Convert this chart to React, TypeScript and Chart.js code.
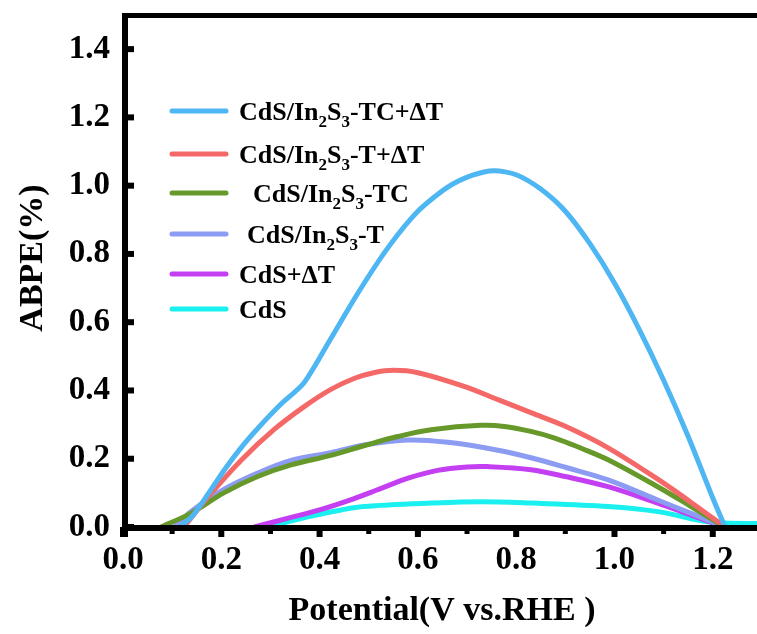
import { useEffect, useRef } from "react";
import { Chart, registerables } from "chart.js";

Chart.register(...registerables);

// Potential (V vs. RHE) and ABPE (%) for each photoanode
const tcDtPotential = [0.115, 0.14, 0.17, 0.205, 0.24, 0.275, 0.32, 0.368, 0.42, 0.48, 0.54, 0.6, 0.66, 0.71, 0.755, 0.8, 0.85, 0.9, 0.95, 1.0, 1.05, 1.1, 1.15, 1.2, 1.225];
const tcDtAbpe = [0, 0.03, 0.09, 0.165, 0.232, 0.29, 0.358, 0.422, 0.545, 0.69, 0.82, 0.925, 0.995, 1.03, 1.044, 1.032, 0.99, 0.925, 0.83, 0.715, 0.58, 0.43, 0.265, 0.085, 0];

const tDtPotential = [0.124, 0.173, 0.24, 0.307, 0.368, 0.423, 0.47, 0.51, 0.551, 0.6, 0.694, 0.763, 0.83, 0.9, 0.987, 1.088, 1.156, 1.225];
const tDtAbpe = [0, 0.088, 0.195, 0.285, 0.352, 0.403, 0.435, 0.452, 0.459, 0.452, 0.412, 0.373, 0.335, 0.295, 0.232, 0.14, 0.072, 0];

const tcPotential = [0.077, 0.138, 0.205, 0.274, 0.342, 0.423, 0.49, 0.559, 0.627, 0.728, 0.78, 0.83, 0.88, 0.93, 0.987, 1.088, 1.156, 1.225];
const tcAbpe = [0, 0.04, 0.1, 0.148, 0.182, 0.21, 0.238, 0.265, 0.285, 0.298, 0.294, 0.28, 0.26, 0.232, 0.197, 0.118, 0.06, 0];

const tPotential = [0.104, 0.138, 0.205, 0.274, 0.342, 0.423, 0.49, 0.58, 0.661, 0.763, 0.83, 0.9, 0.987, 1.088, 1.156, 1.225];
const tAbpe = [0, 0.045, 0.11, 0.158, 0.195, 0.218, 0.24, 0.255, 0.248, 0.225, 0.203, 0.175, 0.138, 0.079, 0.04, 0];

const cdsDtPotential = [0.267, 0.342, 0.4, 0.46, 0.52, 0.58, 0.64, 0.7, 0.742, 0.83, 0.9, 0.987, 1.088, 1.156, 1.225];
const cdsDtAbpe = [0, 0.028, 0.05, 0.078, 0.11, 0.143, 0.166, 0.176, 0.177, 0.168, 0.148, 0.118, 0.07, 0.035, 0];

const cdsPotential = [0.295, 0.376, 0.444, 0.49, 0.627, 0.728, 0.83, 0.987, 1.088, 1.19, 1.225, 1.29];
const cdsAbpe = [0, 0.03, 0.05, 0.06, 0.07, 0.074, 0.07, 0.06, 0.045, 0.015, 0.012, 0.01];

const seriesLabels = [
  "CdS/In₂S₃-TC+ΔT",
  "CdS/In₂S₃-T+ΔT",
  "CdS/In₂S₃-TC",
  "CdS/In₂S₃-T",
  "CdS+ΔT",
  "CdS",
];
const seriesColors = ["#4db6f3", "#f56868", "#67992a", "#8c9cf2", "#c43ff2", "#1af0f0"];

const xTicks = [0, 0.2, 0.4, 0.6, 0.8, 1.0, 1.2];
const xMinorTicks = [0.1, 0.3, 0.5, 0.7, 0.9, 1.1];
const yTicks = [0, 0.2, 0.4, 0.6, 0.8, 1.0, 1.2, 1.4];

const SERIF = '"Liberation Serif", "Times New Roman", serif';

const toPoints = (xs: number[], ys: number[]) => xs.map((x, i) => ({ x, y: ys[i] }));

const SUBS: Record<string, string> = { "₂": "2", "₃": "3" };

// Draws text where subscript digits are rendered smaller and lowered
function drawRichText(ctx: CanvasRenderingContext2D, text: string, x: number, y: number) {
  let cx = x;
  for (const ch of Array.from(text)) {
    if (SUBS[ch]) {
      ctx.font = `bold 17px ${SERIF}`;
      ctx.fillText(SUBS[ch], cx, y + 7);
      cx += ctx.measureText(SUBS[ch]).width;
    } else {
      ctx.font = `bold 26px ${SERIF}`;
      ctx.fillText(ch, cx, y);
      cx += ctx.measureText(ch).width;
    }
  }
}

const framePlugin = {
  id: "frame",
  afterDatasetsDraw(chart: any) {
    const { ctx, chartArea, scales } = chart;
    const xs = scales.x;
    const ys = scales.y;
    const W = chart.width;
    ctx.save();
    ctx.fillStyle = "#000";
    // axis lines
    ctx.fillRect(chartArea.left - 1, chartArea.top - 2, W, 5);
    ctx.fillRect(chartArea.left - 1, chartArea.top - 2, 6, chartArea.bottom - chartArea.top + 12);
    ctx.fillRect(chartArea.left - 1, chartArea.bottom - 2, W, 6);
    // y ticks (inward)
    for (const v of yTicks) {
      const py = ys.getPixelForValue(v);
      ctx.fillRect(chartArea.left, py - 3, 11, 6);
    }
    // x ticks (outward)
    for (const v of xTicks) {
      const px = xs.getPixelForValue(v);
      ctx.fillRect(px - 3, chartArea.bottom, 6, 10);
    }
    for (const v of xMinorTicks) {
      const px = xs.getPixelForValue(v);
      ctx.fillRect(px - 2.5, chartArea.bottom, 5, 7);
    }

    // legend
    const rowY = [111, 154, 193, 234, 274, 309];
    const textX = [239, 239, 253, 247, 239, 239];
    chart.data.datasets.forEach((ds: any, i: number) => {
      ctx.strokeStyle = ds.borderColor;
      ctx.lineWidth = 5;
      ctx.lineCap = "round";
      ctx.beginPath();
      ctx.moveTo(172, rowY[i]);
      ctx.lineTo(226, rowY[i]);
      ctx.stroke();
      ctx.fillStyle = "#000";
      ctx.textBaseline = "alphabetic";
      ctx.textAlign = "left";
      drawRichText(ctx, ds.label, textX[i], rowY[i] + 9);
    });

    // axis titles
    ctx.fillStyle = "#000";
    ctx.textAlign = "center";
    ctx.textBaseline = "middle";
    ctx.font = `bold 34px ${SERIF}`;
    ctx.fillText("Potential(V vs.RHE )", (chartArea.left + W) / 2 + 2, 611);
    ctx.save();
    ctx.translate(33, 258);
    ctx.rotate(-Math.PI / 2);
    ctx.fillText("ABPE(%)", 0, 0);
    ctx.restore();
    ctx.restore();
  },
};

const seriesPoints = [
  toPoints(tcDtPotential, tcDtAbpe),
  toPoints(tDtPotential, tDtAbpe),
  toPoints(tcPotential, tcAbpe),
  toPoints(tPotential, tAbpe),
  toPoints(cdsDtPotential, cdsDtAbpe),
  toPoints(cdsPotential, cdsAbpe),
];

export default function App() {
  const canvasRef = useRef<HTMLCanvasElement | null>(null);

  useEffect(() => {
    if (!canvasRef.current) return;
    const chart = new Chart(canvasRef.current, {
      type: "line",
      data: {
        datasets: seriesLabels.map((label, i) => ({
          label,
          data: seriesPoints[i],
          borderColor: seriesColors[i],
          borderWidth: 5,
          pointRadius: 0,
          fill: false,
          tension: i === 0 ? 0.25 : 0.35,
        })),
      },
      options: {
        responsive: false,
        animation: false,
        layout: { padding: { top: 15, left: 0, right: 0, bottom: 0 } },
        plugins: {
          legend: { display: false },
          tooltip: { enabled: false },
        },
        scales: {
          x: {
            type: "linear",
            min: 0,
            max: 1.29,
            afterFit: (scale: any) => {
              scale.height = 107;
              scale.paddingLeft = 0;
              scale.paddingRight = 0;
            },
            afterBuildTicks: (scale: any) => {
              scale.ticks = xTicks.map((value) => ({ value }));
            },
            grid: { display: false, drawTicks: false },
            border: { display: false },
            ticks: {
              autoSkip: false,
              maxRotation: 0,
              padding: 14,
              color: "#000",
              font: { family: SERIF, size: 33, weight: "bold" },
              callback: (v: any) => Number(v).toFixed(1),
            },
          },
          y: {
            type: "linear",
            min: 0,
            max: 1.5,
            afterFit: (scale: any) => {
              scale.width = 123;
              scale.paddingTop = 0;
              scale.paddingBottom = 0;
            },
            afterBuildTicks: (scale: any) => {
              scale.ticks = yTicks.map((value) => ({ value }));
            },
            grid: { display: false, drawTicks: false },
            border: { display: false },
            ticks: {
              autoSkip: false,
              padding: 13,
              color: "#000",
              font: { family: SERIF, size: 33, weight: "bold" },
              callback: (v: any) => Number(v).toFixed(1),
            },
          },
        },
      },
      plugins: [framePlugin],
    });
    return () => chart.destroy();
  }, []);

  return (
    <div style={{ position: "absolute", left: 0, top: 0, width: 757, height: 634, background: "#fff" }}>
      <canvas ref={canvasRef} width={757} height={634} style={{ display: "block" }} />
    </div>
  );
}
